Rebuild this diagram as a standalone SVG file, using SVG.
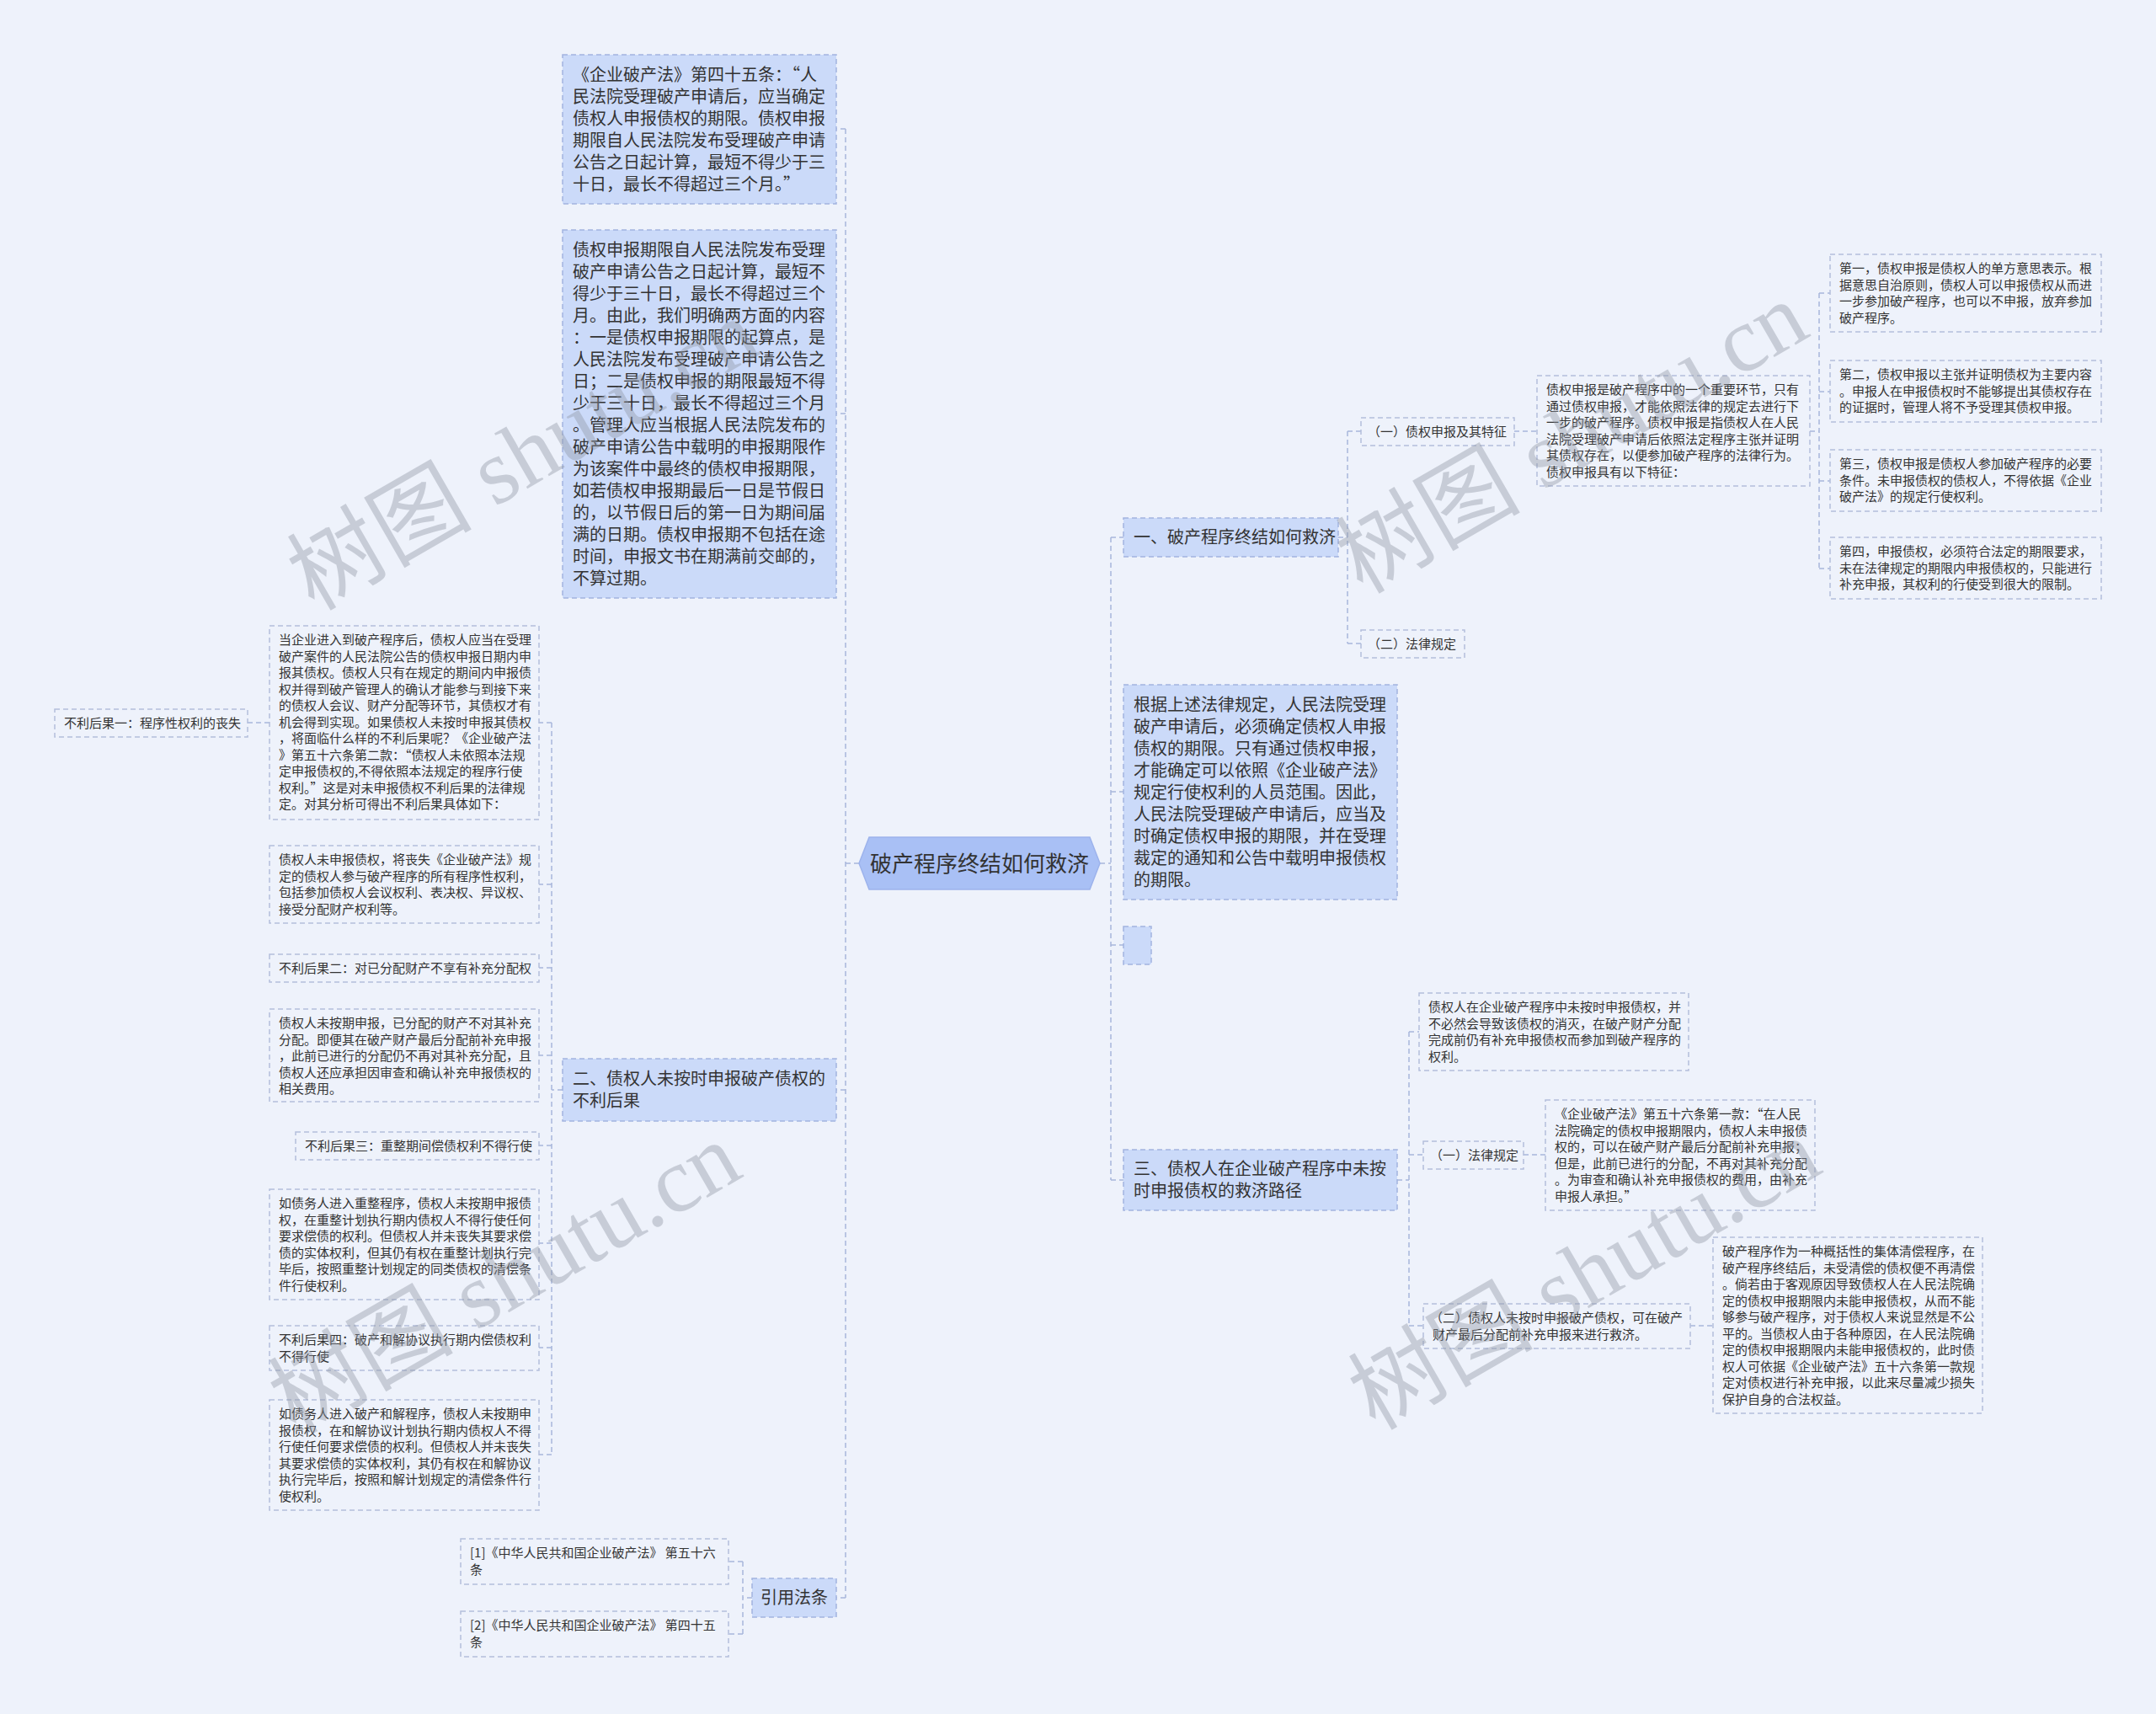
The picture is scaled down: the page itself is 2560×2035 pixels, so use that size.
<svg xmlns="http://www.w3.org/2000/svg" width="2560" height="2035" viewBox="0 0 2560 2035">
<style>
text{font-family:"Noto Sans CJK SC","Noto Sans",sans-serif;fill:#333}
.t1{font-size:20px}
.t2{font-size:15px}
.root{font-size:26px}
.b1{fill:#cbdaf9;stroke:#a3b4e0;stroke-width:1.5;stroke-dasharray:6 4}
.b2{fill:none;stroke:#b4bfdc;stroke-width:1.5;stroke-dasharray:6 4}
.c{fill:none;stroke:#a8b6db;stroke-width:1.5;stroke-dasharray:6 4}
.wm{font-family:"Liberation Serif","Noto Sans CJK SC",serif;font-size:110px;fill:#8f96a3;opacity:0.4}
</style>
<rect x="0" y="0" width="2560" height="2035" fill="#eef2fb"/>

<g id="connectors">
<path class="c" d="M1306 1025H1319M1319 638V1401M1319 638H1334M1319 940H1334M1319 1122H1334M1319 1401H1334"/>
<path class="c" d="M1020 1025H1004M1004 153V1897M1004 153H993M1004 491H993M1004 1294H993M1004 1897H993"/>
<path class="c" d="M1589 638H1600M1600 512V764M1600 512H1616M1600 764H1616"/>
<path class="c" d="M1798 512H1825"/>
<path class="c" d="M2149 512H2160M2160 348V675M2160 348H2173M2160 465H2173M2160 571H2173M2160 675H2173"/>
<path class="c" d="M1659 1401H1673M1673 1225V1574M1673 1225H1685M1673 1371H1690M1673 1574H1690"/>
<path class="c" d="M1809 1371H1835M2007 1574H2034"/>
<path class="c" d="M668 1294H655M655 858V1727M655 858H640M655 1050H640M655 1149H640M655 1253H640M655 1360H640M655 1476H640M655 1600H640M655 1727H640"/>
<path class="c" d="M320 858H294"/>
<path class="c" d="M893 1897H882M882 1854V1940M882 1854H865M882 1940H865"/>
</g>

<g id="root">
<polygon points="1020,1025 1032,994 1294,994 1306,1025 1294,1056 1032,1056" fill="#a9c0f5" stroke="#9db3ec" stroke-width="1.5"/>
<text class="root" x="1163" y="1035" text-anchor="middle">破产程序终结如何救济</text>
</g>

<g id="n-law45">
<rect class="b1" x="668" y="65" width="325" height="177"/>
<text class="t1"><tspan x="680" y="96">《企业破产法》第四十五条：“人</tspan><tspan x="680" dy="26">民法院受理破产申请后，应当确定</tspan><tspan x="680" dy="26">债权人申报债权的期限。债权申报</tspan><tspan x="680" dy="26">期限自人民法院发布受理破产申请</tspan><tspan x="680" dy="26">公告之日起计算，最短不得少于三</tspan><tspan x="680" dy="26">十日，最长不得超过三个月。”</tspan></text>
</g>

<g id="n-period">
<rect class="b1" x="668" y="273" width="325" height="437"/>
<text class="t1"><tspan x="680" y="304">债权申报期限自人民法院发布受理</tspan><tspan x="680" dy="26">破产申请公告之日起计算，最短不</tspan><tspan x="680" dy="26">得少于三十日，最长不得超过三个</tspan><tspan x="680" dy="26">月。由此，我们明确两方面的内容</tspan><tspan x="680" dy="26">：一是债权申报期限的起算点，是</tspan><tspan x="680" dy="26">人民法院发布受理破产申请公告之</tspan><tspan x="680" dy="26">日；二是债权申报的期限最短不得</tspan><tspan x="680" dy="26">少于三十日，最长不得超过三个月</tspan><tspan x="680" dy="26">。管理人应当根据人民法院发布的</tspan><tspan x="680" dy="26">破产申请公告中载明的申报期限作</tspan><tspan x="680" dy="26">为该案件中最终的债权申报期限，</tspan><tspan x="680" dy="26">如若债权申报期最后一日是节假日</tspan><tspan x="680" dy="26">的，以节假日后的第一日为期间届</tspan><tspan x="680" dy="26">满的日期。债权申报期不包括在途</tspan><tspan x="680" dy="26">时间，申报文书在期满前交邮的，</tspan><tspan x="680" dy="26">不算过期。</tspan></text>
</g>

<g id="n-two">
<rect class="b1" x="668" y="1257" width="325" height="74"/>
<text class="t1"><tspan x="680" y="1288">二、债权人未按时申报破产债权的</tspan><tspan x="680" dy="26">不利后果</tspan></text>
</g>

<g id="n-refs">
<rect class="b1" x="893" y="1874" width="100" height="46"/>
<text class="t1" x="903" y="1904">引用法条</text>
</g>

<g id="n-when">
<rect class="b2" x="320" y="743" width="320" height="230"/>
<text class="t2"><tspan x="331" y="765">当企业进入到破产程序后，债权人应当在受理</tspan><tspan x="331" dy="19.5">破产案件的人民法院公告的债权申报日期内申</tspan><tspan x="331" dy="19.5">报其债权。债权人只有在规定的期间内申报债</tspan><tspan x="331" dy="19.5">权并得到破产管理人的确认才能参与到接下来</tspan><tspan x="331" dy="19.5">的债权人会议、财产分配等环节，其债权才有</tspan><tspan x="331" dy="19.5">机会得到实现。如果债权人未按时申报其债权</tspan><tspan x="331" dy="19.5">，将面临什么样的不利后果呢？《企业破产法</tspan><tspan x="331" dy="19.5">》第五十六条第二款：“债权人未依照本法规</tspan><tspan x="331" dy="19.5">定申报债权的,不得依照本法规定的程序行使</tspan><tspan x="331" dy="19.5">权利。”这是对未申报债权不利后果的法律规</tspan><tspan x="331" dy="19.5">定。对其分析可得出不利后果具体如下：</tspan></text>
</g>

<g id="n-con1">
<rect class="b2" x="65" y="842" width="229" height="33"/>
<text class="t2" x="76" y="864">不利后果一：程序性权利的丧失</text>
</g>

<g id="n-lose">
<rect class="b2" x="320" y="1004" width="320" height="92"/>
<text class="t2"><tspan x="331" y="1026">债权人未申报债权，将丧失《企业破产法》规</tspan><tspan x="331" dy="19.5">定的债权人参与破产程序的所有程序性权利，</tspan><tspan x="331" dy="19.5">包括参加债权人会议权利、表决权、异议权、</tspan><tspan x="331" dy="19.5">接受分配财产权利等。</tspan></text>
</g>

<g id="n-con2">
<rect class="b2" x="320" y="1133" width="320" height="33"/>
<text class="t2" x="331" y="1155">不利后果二：对已分配财产不享有补充分配权</text>
</g>

<g id="n-late">
<rect class="b2" x="320" y="1198" width="320" height="110"/>
<text class="t2"><tspan x="331" y="1220">债权人未按期申报，已分配的财产不对其补充</tspan><tspan x="331" dy="19.5">分配。即便其在破产财产最后分配前补充申报</tspan><tspan x="331" dy="19.5">，此前已进行的分配仍不再对其补充分配，且</tspan><tspan x="331" dy="19.5">债权人还应承担因审查和确认补充申报债权的</tspan><tspan x="331" dy="19.5">相关费用。</tspan></text>
</g>

<g id="n-con3">
<rect class="b2" x="351" y="1344" width="289" height="33"/>
<text class="t2" x="362" y="1366">不利后果三：重整期间偿债权利不得行使</text>
</g>

<g id="n-reorg">
<rect class="b2" x="320" y="1412" width="320" height="131"/>
<text class="t2"><tspan x="331" y="1434">如债务人进入重整程序，债权人未按期申报债</tspan><tspan x="331" dy="19.5">权，在重整计划执行期内债权人不得行使任何</tspan><tspan x="331" dy="19.5">要求偿债的权利。但债权人并未丧失其要求偿</tspan><tspan x="331" dy="19.5">债的实体权利，但其仍有权在重整计划执行完</tspan><tspan x="331" dy="19.5">毕后，按照重整计划规定的同类债权的清偿条</tspan><tspan x="331" dy="19.5">件行使权利。</tspan></text>
</g>

<g id="n-con4">
<rect class="b2" x="320" y="1574" width="320" height="53"/>
<text class="t2"><tspan x="331" y="1596">不利后果四：破产和解协议执行期内偿债权利</tspan><tspan x="331" dy="19.5">不得行使</tspan></text>
</g>

<g id="n-settle">
<rect class="b2" x="320" y="1662" width="320" height="131"/>
<text class="t2"><tspan x="331" y="1684">如债务人进入破产和解程序，债权人未按期申</tspan><tspan x="331" dy="19.5">报债权，在和解协议计划执行期内债权人不得</tspan><tspan x="331" dy="19.5">行使任何要求偿债的权利。但债权人并未丧失</tspan><tspan x="331" dy="19.5">其要求偿债的实体权利，其仍有权在和解协议</tspan><tspan x="331" dy="19.5">执行完毕后，按照和解计划规定的清偿条件行</tspan><tspan x="331" dy="19.5">使权利。</tspan></text>
</g>

<g id="n-ref1">
<rect class="b2" x="547" y="1827" width="318" height="54"/>
<text class="t2"><tspan x="558" y="1849">[1]《中华人民共和国企业破产法》 第五十六</tspan><tspan x="558" dy="19.5">条</tspan></text>
</g>

<g id="n-ref2">
<rect class="b2" x="547" y="1913" width="318" height="54"/>
<text class="t2"><tspan x="558" y="1935">[2]《中华人民共和国企业破产法》 第四十五</tspan><tspan x="558" dy="19.5">条</tspan></text>
</g>

<g id="n-one">
<rect class="b1" x="1334" y="615" width="255" height="46"/>
<text class="t1" x="1346" y="645">一、破产程序终结如何救济</text>
</g>

<g id="n-basis">
<rect class="b1" x="1334" y="813" width="325" height="255"/>
<text class="t1"><tspan x="1346" y="844">根据上述法律规定，人民法院受理</tspan><tspan x="1346" dy="26">破产申请后，必须确定债权人申报</tspan><tspan x="1346" dy="26">债权的期限。只有通过债权申报，</tspan><tspan x="1346" dy="26">才能确定可以依照《企业破产法》</tspan><tspan x="1346" dy="26">规定行使权利的人员范围。因此，</tspan><tspan x="1346" dy="26">人民法院受理破产申请后，应当及</tspan><tspan x="1346" dy="26">时确定债权申报的期限，并在受理</tspan><tspan x="1346" dy="26">裁定的通知和公告中载明申报债权</tspan><tspan x="1346" dy="26">的期限。</tspan></text>
</g>

<g id="n-empty">
<rect class="b1" x="1334" y="1100" width="33" height="45"/>
</g>

<g id="n-three">
<rect class="b1" x="1334" y="1365" width="325" height="72"/>
<text class="t1"><tspan x="1346" y="1395">三、债权人在企业破产程序中未按</tspan><tspan x="1346" dy="26">时申报债权的救济路径</tspan></text>
</g>

<g id="n-feat">
<rect class="b2" x="1616" y="496" width="182" height="33"/>
<text class="t2" x="1624" y="518">（一）债权申报及其特征</text>
</g>

<g id="n-law1">
<rect class="b2" x="1616" y="748" width="123" height="33"/>
<text class="t2" x="1624" y="770">（二）法律规定</text>
</g>

<g id="n-claim">
<rect class="b2" x="1825" y="446" width="324" height="131"/>
<text class="t2"><tspan x="1836" y="468">债权申报是破产程序中的一个重要环节，只有</tspan><tspan x="1836" dy="19.5">通过债权申报，才能依照法律的规定去进行下</tspan><tspan x="1836" dy="19.5">一步的破产程序。债权申报是指债权人在人民</tspan><tspan x="1836" dy="19.5">法院受理破产申请后依照法定程序主张并证明</tspan><tspan x="1836" dy="19.5">其债权存在，以便参加破产程序的法律行为。</tspan><tspan x="1836" dy="19.5">债权申报具有以下特征：</tspan></text>
</g>

<g id="n-f1">
<rect class="b2" x="2173" y="302" width="322" height="92"/>
<text class="t2"><tspan x="2184" y="324">第一，债权申报是债权人的单方意思表示。根</tspan><tspan x="2184" dy="19.5">据意思自治原则，债权人可以申报债权从而进</tspan><tspan x="2184" dy="19.5">一步参加破产程序，也可以不申报，放弃参加</tspan><tspan x="2184" dy="19.5">破产程序。</tspan></text>
</g>

<g id="n-f2">
<rect class="b2" x="2173" y="428" width="322" height="73"/>
<text class="t2"><tspan x="2184" y="450">第二，债权申报以主张并证明债权为主要内容</tspan><tspan x="2184" dy="19.5">。申报人在申报债权时不能够提出其债权存在</tspan><tspan x="2184" dy="19.5">的证据时，管理人将不予受理其债权申报。</tspan></text>
</g>

<g id="n-f3">
<rect class="b2" x="2173" y="534" width="322" height="73"/>
<text class="t2"><tspan x="2184" y="556">第三，债权申报是债权人参加破产程序的必要</tspan><tspan x="2184" dy="19.5">条件。未申报债权的债权人，不得依据《企业</tspan><tspan x="2184" dy="19.5">破产法》的规定行使权利。</tspan></text>
</g>

<g id="n-f4">
<rect class="b2" x="2173" y="638" width="322" height="73"/>
<text class="t2"><tspan x="2184" y="660">第四，申报债权，必须符合法定的期限要求，</tspan><tspan x="2184" dy="19.5">未在法律规定的期限内申报债权的，只能进行</tspan><tspan x="2184" dy="19.5">补充申报，其权利的行使受到很大的限制。</tspan></text>
</g>

<g id="n-notextinct">
<rect class="b2" x="1685" y="1179" width="320" height="92"/>
<text class="t2"><tspan x="1696" y="1201">债权人在企业破产程序中未按时申报债权，并</tspan><tspan x="1696" dy="19.5">不必然会导致该债权的消灭，在破产财产分配</tspan><tspan x="1696" dy="19.5">完成前仍有补充申报债权而参加到破产程序的</tspan><tspan x="1696" dy="19.5">权利。</tspan></text>
</g>

<g id="n-law2">
<rect class="b2" x="1690" y="1355" width="119" height="33"/>
<text class="t2" x="1698" y="1377">（一）法律规定</text>
</g>

<g id="n-law56">
<rect class="b2" x="1835" y="1306" width="320" height="131"/>
<text class="t2"><tspan x="1846" y="1328">《企业破产法》第五十六条第一款：“在人民</tspan><tspan x="1846" dy="19.5">法院确定的债权申报期限内，债权人未申报债</tspan><tspan x="1846" dy="19.5">权的，可以在破产财产最后分配前补充申报；</tspan><tspan x="1846" dy="19.5">但是，此前已进行的分配，不再对其补充分配</tspan><tspan x="1846" dy="19.5">。为审查和确认补充申报债权的费用，由补充</tspan><tspan x="1846" dy="19.5">申报人承担。”</tspan></text>
</g>

<g id="n-supp">
<rect class="b2" x="1690" y="1548" width="317" height="53"/>
<text class="t2"><tspan x="1698" y="1570">（二）债权人未按时申报破产债权，可在破产</tspan><tspan x="1701" dy="19.5">财产最后分配前补充申报来进行救济。</tspan></text>
</g>

<g id="n-collective">
<rect class="b2" x="2034" y="1469" width="320" height="209"/>
<text class="t2"><tspan x="2045" y="1491">破产程序作为一种概括性的集体清偿程序，在</tspan><tspan x="2045" dy="19.5">破产程序终结后，未受清偿的债权便不再清偿</tspan><tspan x="2045" dy="19.5">。倘若由于客观原因导致债权人在人民法院确</tspan><tspan x="2045" dy="19.5">定的债权申报期限内未能申报债权，从而不能</tspan><tspan x="2045" dy="19.5">够参与破产程序，对于债权人来说显然是不公</tspan><tspan x="2045" dy="19.5">平的。当债权人由于各种原因，在人民法院确</tspan><tspan x="2045" dy="19.5">定的债权申报期限内未能申报债权的，此时债</tspan><tspan x="2045" dy="19.5">权人可依据《企业破产法》五十六条第一款规</tspan><tspan x="2045" dy="19.5">定对债权进行补充申报，以此来尽量减少损失</tspan><tspan x="2045" dy="19.5">保护自身的合法权益。</tspan></text>
</g>

<g id="watermarks">
<text class="wm" transform="translate(640,572) rotate(-30)" text-anchor="middle">树图 shutu.cn</text>
<text class="wm" transform="translate(1885,552) rotate(-30)" text-anchor="middle">树图 shutu.cn</text>
<text class="wm" transform="translate(618,1550) rotate(-30)" text-anchor="middle">树图 shutu.cn</text>
<text class="wm" transform="translate(1900,1545) rotate(-30)" text-anchor="middle">树图 shutu.cn</text>
</g>
</svg>
